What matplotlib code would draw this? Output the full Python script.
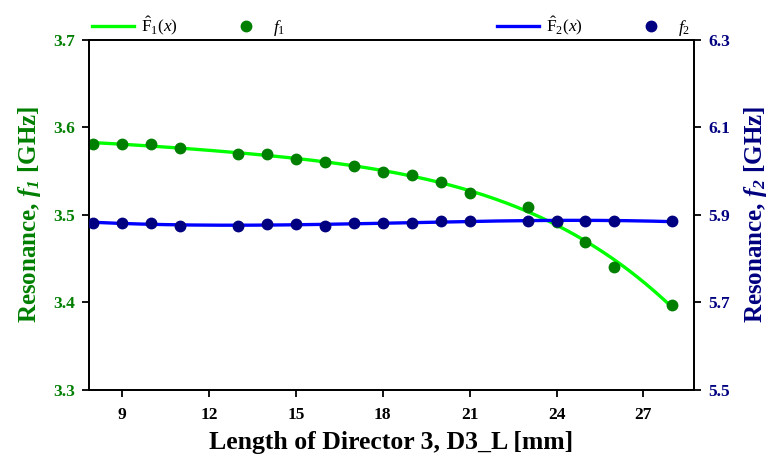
import numpy as np
import matplotlib
matplotlib.use('Agg')
import matplotlib.pyplot as plt
from matplotlib.lines import Line2D

plt.rcParams['font.family'] = 'Liberation Serif'
plt.rcParams['mathtext.fontset'] = 'custom'
plt.rcParams['mathtext.rm'] = 'Liberation Serif'
plt.rcParams['mathtext.it'] = 'Liberation Serif:italic'
plt.rcParams['mathtext.bf'] = 'Liberation Serif:bold:italic'

# data
d3_len = [8, 9, 10, 11, 13, 14, 15, 16, 17, 18, 19, 20, 21, 23, 24, 25, 26, 28]
f1 = [3.581, 3.581, 3.581, 3.576, 3.569, 3.569, 3.564, 3.560, 3.556, 3.549,
      3.545, 3.537, 3.525, 3.509, 3.492, 3.469, 3.441, 3.397]
f2 = [5.882, 5.882, 5.881, 5.874, 5.874, 5.878, 5.878, 5.874, 5.882, 5.882,
      5.882, 5.886, 5.886, 5.886, 5.886, 5.886, 5.886, 5.886]
x_ticks = [9, 12, 15, 18, 21, 24, 27]
y1_ticks = [3.3, 3.4, 3.5, 3.6, 3.7]
y2_ticks = [5.5, 5.7, 5.9, 6.1, 6.3]

c_fit1, c_pt1 = '#00ff00', '#007f00'
c_fit2, c_pt2 = '#0000ff', '#000080'

xs = np.array(d3_len, dtype=float)
xf = np.linspace(xs.min(), xs.max(), 200)
fit1 = np.polyval(np.polyfit(xs, f1, 4), xf)
fit2 = np.polyval(np.polyfit(xs, f2, 3), xf)

fig = plt.figure(figsize=(7.69, 4.66), dpi=100)
ax = fig.add_axes([0.1157, 0.163, 0.7868, 0.752])
ax2 = ax.twinx()

ax.plot(xf, fit1, color=c_fit1, lw=2.4, zorder=2)
ax.plot(xs, f1, 'o', color=c_pt1, ms=7.5, zorder=3)
ax2.plot(xf, fit2, color=c_fit2, lw=2.4, zorder=2)
ax2.plot(xs, f2, 'o', color=c_pt2, ms=7.5, zorder=3)

ax.set_xlim(7.85, 28.75)
ax.set_ylim(3.3, 3.7)
ax2.set_ylim(5.5, 6.3)
ax.set_xticks(x_ticks)
ax.set_yticks(y1_ticks)
ax2.set_yticks(y2_ticks)
ax.set_yticklabels([f'{v:.1f}' for v in y1_ticks])
ax2.set_yticklabels([f'{v:.1f}' for v in y2_ticks])

for a in (ax, ax2):
    for s in a.spines.values():
        s.set_linewidth(1.3)
    a.tick_params(width=1.3, length=5, labelsize=12.5)
for lab in ax.get_xticklabels() + ax.get_yticklabels() + ax2.get_yticklabels():
    lab.set_fontweight('bold')
ax.tick_params(axis='x', pad=7)
ax.tick_params(axis='y', colors='black', labelcolor=c_pt1, pad=5)
ax2.tick_params(axis='y', colors='black', labelcolor=c_pt2, pad=5)

ax.set_xlabel('Length of Director 3, D3_L [mm]', fontsize=18.5, fontweight='bold', labelpad=6)
ax.set_ylabel(r'Resonance, $\mathbf{f}_\mathbf{1}$ [GHz]', fontsize=18,
              fontweight='bold', color=c_pt1, labelpad=7)
ax2.set_ylabel(r'Resonance, $\mathbf{f}_\mathbf{2}$ [GHz]', fontsize=18,
               fontweight='bold', color=c_pt2, labelpad=9)

h1 = [Line2D([], [], color=c_fit1, lw=2.4), Line2D([], [], ls='', marker='o', color=c_pt1, ms=7.5)]
h2 = [Line2D([], [], color=c_fit2, lw=2.4), Line2D([], [], ls='', marker='o', color=c_pt2, ms=7.5)]
leg_kw = dict(ncol=2, frameon=False, fontsize=12.5, columnspacing=2.7,
              handlelength=2.4, handletextpad=0.4, borderpad=0.2, borderaxespad=0)
leg1 = ax2.legend(h1, [r'$\hat{\mathrm{F}}_1(x)$', r'$f_1$'],
                  loc='lower left', bbox_to_anchor=(0.0, 0.995), **leg_kw)
ax2.add_artist(leg1)
ax2.legend(h2, [r'$\hat{\mathrm{F}}_2(x)$', r'$f_2$'],
           loc='lower right', bbox_to_anchor=(1.0, 0.995), **leg_kw)

fig.savefig('out.png', dpi=100)
